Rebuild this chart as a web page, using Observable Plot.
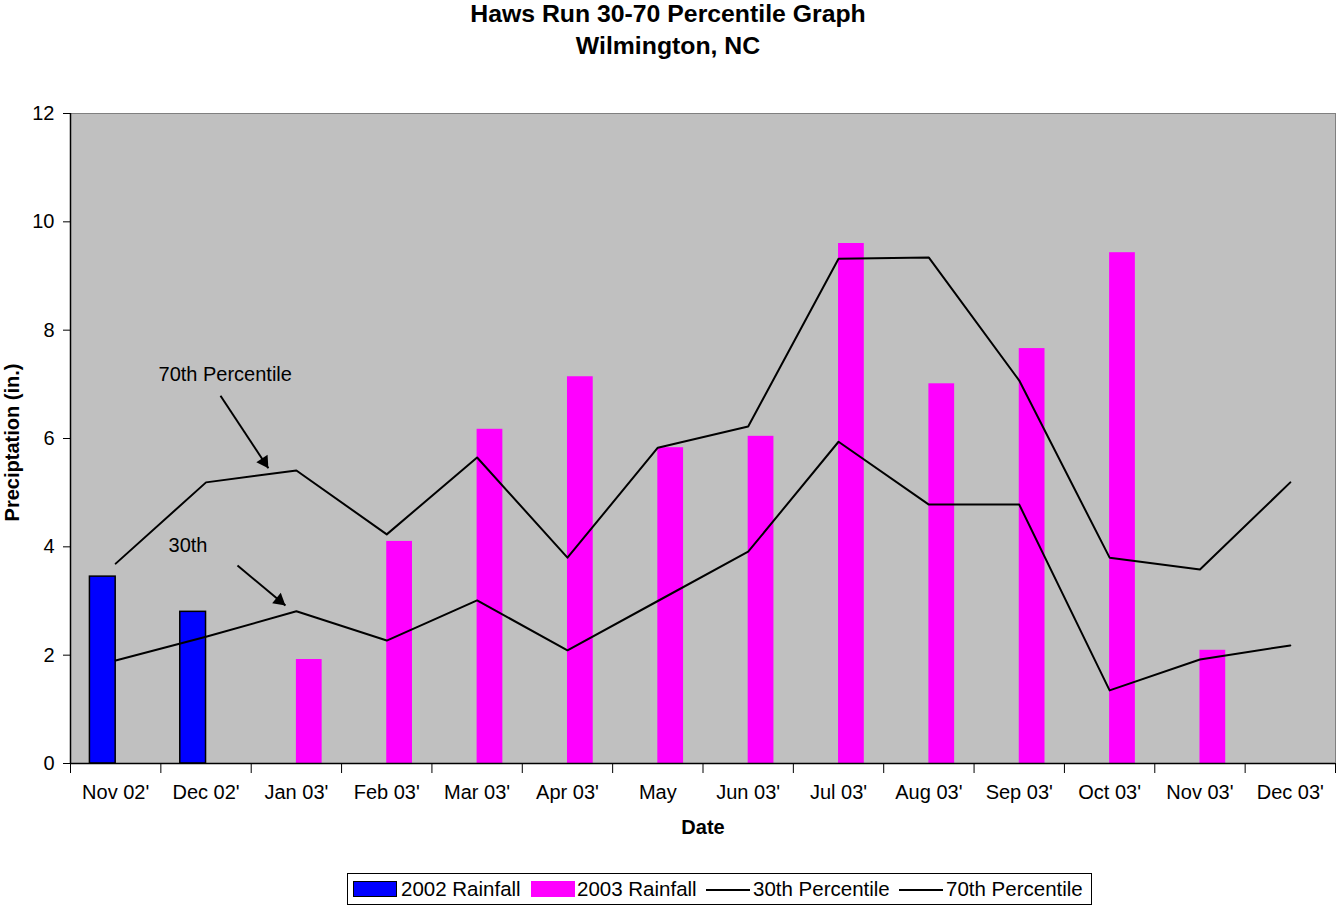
<!DOCTYPE html>
<html>
<head>
<meta charset="utf-8">
<script src="https://cdn.jsdelivr.net/npm/d3@7"></script>
<script src="https://cdn.jsdelivr.net/npm/@observablehq/plot@0.6"></script>
<style>
  body { margin: 0; background: #fff; font-family: "Liberation Sans", Arial, sans-serif; }
  #wrap { position: relative; width: 1336px; height: 906px; }
  #title { position: absolute; top: 0; left: 0; width: 1336px; text-align: center; font-weight: bold; font-size: 24.8px; line-height: 32px; margin-top: -2px; color: #000; }
  #chart { position: absolute; top: 60px; left: 0; }
  #legend { position: absolute; left: 347px; top: 873px; width: 745px; height: 32px; border: 1px solid #000; font-size: 20.5px; color: #000; box-sizing: border-box; }
  .sw { position: absolute; top: 7px; width: 44px; height: 16px; box-sizing: border-box; }
  .ln { position: absolute; top: 15px; width: 44px; height: 0; border-top: 2px solid #000; }
  .tx { position: absolute; top: 3px; white-space: nowrap; line-height: 24px; }
</style>
</head>
<body>
<div id="wrap">
  <div id="title">Haws Run 30-70 Percentile Graph<br>Wilmington, NC</div>
  <div id="chart"></div>
  <div id="legend">
    <div class="sw" style="left:5px;background:#0000ff;border:1.5px solid #000"></div><div class="tx" style="left:53px">2002 Rainfall</div>
    <div class="sw" style="left:183px;background:#ff00ff"></div><div class="tx" style="left:229px">2003 Rainfall</div>
    <div class="ln" style="left:358px"></div><div class="tx" style="left:405px">30th Percentile</div>
    <div class="ln" style="left:551px"></div><div class="tx" style="left:598px">70th Percentile</div>
  </div>
</div>
<script>
const categories = ["Nov 02'", "Dec 02'", "Jan 03'", "Feb 03'", "Mar 03'", "Apr 03'", "May", "Jun 03'", "Jul 03'", "Aug 03'", "Sep 03'", "Oct 03'", "Nov 03'", "Dec 03'"];
const rain2002 = [3.45, 2.80, null, null, null, null, null, null, null, null, null, null, null, null];
const rain2003 = [null, null, 1.92, 4.10, 6.17, 7.14, 5.83, 6.04, 9.60, 7.01, 7.66, 9.43, 2.09, null];
const pct30 = [1.90, 2.34, 2.81, 2.27, 3.01, 2.09, 3.00, 3.91, 5.94, 4.78, 4.78, 1.35, 1.92, 2.18];
const pct70 = [3.69, 5.19, 5.41, 4.23, 5.65, 3.80, 5.83, 6.22, 9.32, 9.34, 7.07, 3.80, 3.58, 5.19];
const yTicks = [0, 2, 4, 6, 8, 10, 12];

const rows = categories.map((c, i) => ({i, c, r2002: rain2002[i], r2003: rain2003[i], p30: pct30[i], p70: pct70[i]}));
const W = 0.285;

// annotation callouts (label anchor, arrow start/tip in data units)
const callouts = [
  {label: "70th Percentile", lx: 0.974, ly: 7.18, x1: 1.66, y1: 6.79, x2: 2.19, y2: 5.45, rot: 146.7, dx: -4.3, dy: -6.5},
  {label: "30th", lx: 1.085, ly: 4.02, x1: 1.848, y1: 3.655, x2: 2.379, y2: 2.917, rot: 129.8, dx: -6.0, dy: -5.0}
];

const chart = Plot.plot({
  width: 1336,
  height: 800,
  marginTop: 53,
  marginBottom: 97,
  marginLeft: 70,
  marginRight: 1,
  style: {fontFamily: "'Liberation Sans', Arial, sans-serif", fontSize: "20px", color: "#000", background: "transparent"},
  x: {domain: [0, categories.length], axis: null},
  y: {domain: [0, 12], axis: null},
  marks: [
    Plot.frame({fill: "#c0c0c0", stroke: "#808080"}),
    Plot.rectY(rows.filter(d => d.r2002 != null), {x1: d => d.i + 0.5 - W, x2: d => d.i + 0.5, y1: 0, y2: "r2002", fill: "#0000ff", stroke: "#000", strokeWidth: 1.5}),
    Plot.rectY(rows.filter(d => d.r2003 != null), {x1: d => d.i + 0.5, x2: d => d.i + 0.5 + W, y1: 0, y2: "r2003", fill: "#ff00ff"}),
    Plot.line(rows, {x: d => d.i + 0.5, y: "p30", stroke: "#000", strokeWidth: 2}),
    Plot.line(rows, {x: d => d.i + 0.5, y: "p70", stroke: "#000", strokeWidth: 2}),
    Plot.text(callouts, {x: "lx", y: "ly", text: "label", textAnchor: "start", fontSize: 20}),
    Plot.link(callouts, {x1: "x1", y1: "y1", x2: "x2", y2: "y2", stroke: "#000", strokeWidth: 2}),
    ...callouts.map(c => Plot.dot([c], {x: "x2", y: "y2", symbol: "triangle", r: 5, fill: "#000", stroke: "none", rotate: c.rot, dx: c.dx, dy: c.dy})),
    Plot.ruleY([0], {stroke: "#000", strokeWidth: 1.5}),
    Plot.ruleX([0], {stroke: "#000", strokeWidth: 1.5}),
    Plot.axisY(yTicks, {anchor: "left", tickSize: 7, tickPadding: 9, tickFormat: d => String(d), fontSize: 20, label: null}),
    Plot.axisX(d3.range(categories.length + 1), {anchor: "bottom", tickSize: 10, tickFormat: () => "", label: null}),
    Plot.axisX(d3.range(categories.length).map(i => i + 0.5), {anchor: "bottom", tickSize: 0, tickPadding: 21, tickFormat: v => categories[Math.round(v - 0.5)], fontSize: 20, label: null}),
    Plot.text(["Date"], {frameAnchor: "bottom", dy: 64, lineAnchor: "middle", text: d => d, fontWeight: "bold", fontSize: 20}),
    Plot.text(["Preciptation (in.)"], {frameAnchor: "left", dx: -58, dy: 4, rotate: -90, textAnchor: "middle", lineAnchor: "middle", text: d => d, fontWeight: "bold", fontSize: 20})
  ]
});
document.getElementById("chart").appendChild(chart);
</script>
</body>
</html>
